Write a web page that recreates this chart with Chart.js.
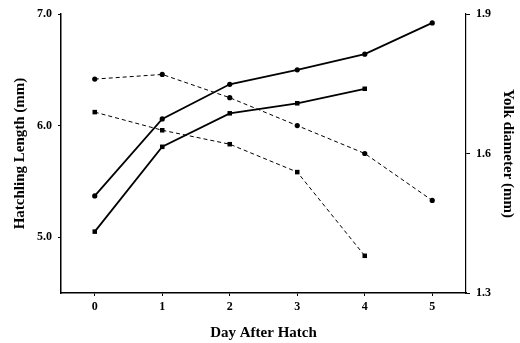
<!DOCTYPE html>
<html><head><meta charset="utf-8">
<script src="https://cdn.jsdelivr.net/npm/chart.js@4/dist/chart.umd.min.js"></script>
<style>html,body{margin:0;padding:0;background:#fff}#wrap{width:520px;height:343px}</style>
</head><body><div id="wrap"><canvas id="c"></canvas></div>
<script>
const days = [0, 1, 2, 3, 4, 5];
const lengthCircle = [5.37, 6.06, 6.37, 6.50, 6.64, 6.92];
const lengthSquare = [5.05, 5.81, 6.11, 6.20, 6.33];
const yolkCircle = [1.760, 1.770, 1.720, 1.660, 1.600, 1.499];
const yolkSquare = [1.689, 1.650, 1.620, 1.560, 1.380];
const xTicks = [0, 1, 2, 3, 4, 5];
const leftTicks = [5.0, 6.0, 7.0];
const rightTicks = [1.3, 1.6, 1.9];

const pts = (arr) => arr.map((v, i) => ({x: days[i], y: v}));
const F = "'Liberation Serif', 'Times New Roman', serif";
const tickFont = {family: F, size: 12, weight: 'bold'};
const titleFont = {family: F, size: 15, weight: 'bold'};

function ds(data, axis, style, dashed) {
  return {
    data: pts(data), yAxisID: axis, borderColor: '#000', backgroundColor: '#000',
    borderWidth: dashed ? 1 : 1.8, borderDash: dashed ? [4, 3] : [],
    pointStyle: style, pointRadius: style === 'rect' ? 3.2 : 2.6, pointBorderWidth: 0,
    tension: 0, fill: false
  };
}

new Chart(document.getElementById('c'), {
  type: 'line',
  data: {datasets: [
    ds(lengthCircle, 'y', 'circle', false),
    ds(lengthSquare, 'y', 'rect', false),
    ds(yolkCircle, 'y2', 'circle', true),
    ds(yolkSquare, 'y2', 'rect', true)
  ]},
  options: {
    responsive: true, maintainAspectRatio: false, animation: false,
    layout: {padding: {top: 14, left: 0, right: 0, bottom: 0}},
    plugins: {legend: {display: false}, tooltip: {enabled: false}},
    scales: {
      x: {
        type: 'linear', min: -0.5, max: 5.5,
        afterBuildTicks: s => { s.ticks = xTicks.map(v => ({value: v})); },
        afterFit: s => { s.height = 50; },
        grid: {drawOnChartArea: false, tickLength: 3, color: '#000'},
        border: {color: '#000', width: 1.5},
        ticks: {color: '#000', font: tickFont, padding: 4, callback: v => String(v)},
        title: {display: true, text: 'Day After Hatch', color: '#000', font: titleFont, padding: {top: 0, bottom: 1}}
      },
      y: {
        type: 'linear', position: 'left', min: 4.5, max: 7.0,
        afterBuildTicks: s => { s.ticks = leftTicks.map(v => ({value: v})); },
        afterFit: s => { s.width = 61; },
        grid: {drawOnChartArea: false, tickLength: 3, color: '#000'},
        border: {color: '#000', width: 1.5},
        ticks: {color: '#000', font: tickFont, padding: 6, callback: v => Number(v).toFixed(1)},
        title: {display: true, text: 'Hatchling Length (mm)', color: '#000', font: titleFont, padding: {top: 11, bottom: 0}}
      },
      y2: {
        type: 'linear', position: 'right', min: 1.3, max: 1.9,
        afterBuildTicks: s => { s.ticks = rightTicks.map(v => ({value: v})); },
        afterFit: s => { s.width = 54; },
        grid: {drawOnChartArea: false, tickLength: 4, color: '#000'},
        border: {color: '#000', width: 1.2},
        ticks: {color: '#000', font: tickFont, padding: 6, callback: v => Number(v).toFixed(1)},
        title: {display: true, text: 'Yolk diameter (mm)', color: '#000', font: titleFont, padding: {top: 3, bottom: 0}}
      }
    }
  }
});
</script></body></html>
